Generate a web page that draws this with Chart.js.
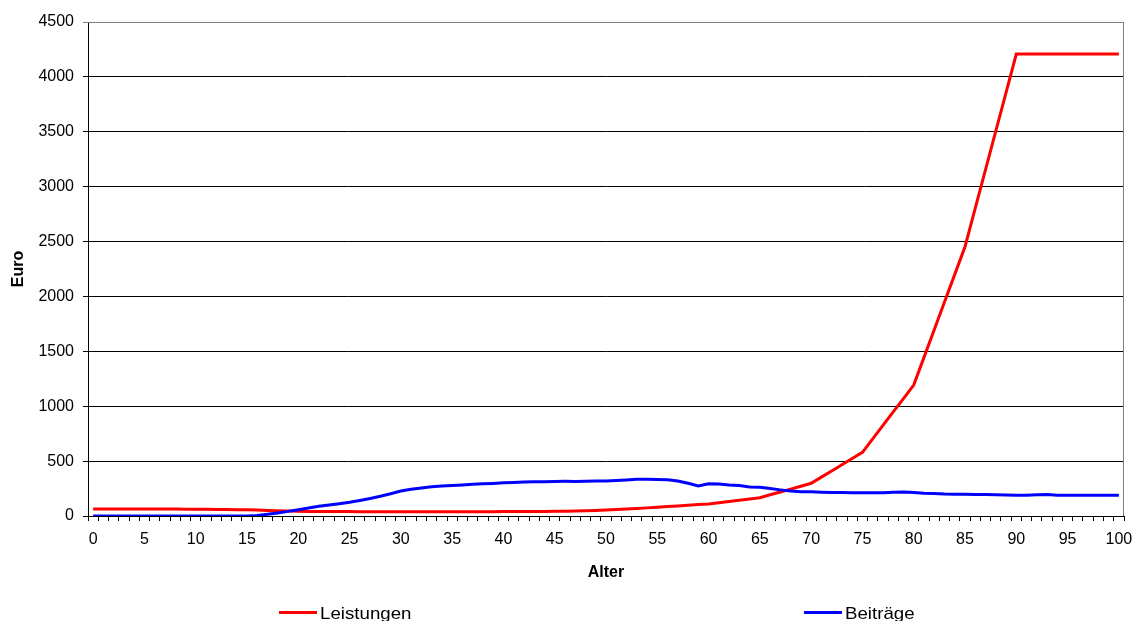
<!DOCTYPE html>
<html>
<head>
<meta charset="utf-8">
<script src="https://cdn.jsdelivr.net/npm/chart.js@4.4.1/dist/chart.umd.min.js"></script>
<style>
  html, body { margin: 0; padding: 0; background: #fff; overflow: hidden; }
  #wrap { position: relative; width: 1135px; height: 621px; overflow: hidden; }
  canvas { position: absolute; left: 0; top: 0; }
  .lg { position: absolute; font-family: "Liberation Sans", Arial, sans-serif; font-size: 17px; color: #000; white-space: nowrap; line-height: 1; transform: scaleX(1.1); transform-origin: left top; }
  .sw { position: absolute; height: 3px; }
</style>
</head>
<body>
<div id="wrap">
  <canvas id="c" width="1135" height="621"></canvas>
  <div class="sw" style="left:279px;top:611px;width:38px;background:#ff0000;"></div>
  <div class="lg" style="left:320px;top:605px;">Leistungen</div>
  <div class="sw" style="left:804px;top:611px;width:38px;background:#0000ff;"></div>
  <div class="lg" style="left:845px;top:605px;">Beiträge</div>
</div>
<script>
const ages = [0,1,2,3,4,5,6,7,8,9,10,11,12,13,14,15,16,17,18,19,20,21,22,23,24,25,26,27,28,29,30,31,32,33,34,35,36,37,38,39,40,41,42,43,44,45,46,47,48,49,50,51,52,53,54,55,56,57,58,59,60,61,62,63,64,65,66,67,68,69,70,71,72,73,74,75,76,77,78,79,80,81,82,83,84,85,86,87,88,89,90,91,92,93,94,95,96,97,98,99,100];

const leistungen = [
  64,64,64,64,64,63,63,63,63,62,
  62,61,60,59,58,56,54,51,48,45,
  43,42,41,40,40,40,39,39,39,39,
  38,38,38,38,38,38,38,39,39,39,
  40,40,41,41,42,43,44,46,48,51,
  55,59,63,68,74,80,86,92,98,104,
  110,121,132,144,155,167,193,219,245,271,
  298,354,410,467,523,580,703,825,948,1070,
  1193,1445,1697,1949,2201,2453,2804,3155,3506,3857,
  4208,4208,4208,4208,4208,4208,4208,4208,4208,4208,4208
];

const beitraege = [
  0,0,0,0,0,0,0,0,0,0,
  0,0,0,0,0,0,5,15,28,42,
  57,72,88,100,112,125,142,160,180,203,
  228,243,256,267,273,277,283,289,293,297,
  302,306,310,311,313,315,316,315,317,318,
  319,324,329,334,334,333,330,318,298,274,
  293,291,283,278,265,261,250,238,227,222,
  220,217,215,213,212,211,211,212,216,218,
  215,208,205,200,198,197,196,195,194,192,
  190,190,194,196,189,188,188,188,188,188,188
];

const yMin = 0, yMax = 4500, yStep = 500;

const fontFamily = '"Liberation Sans", Arial, sans-serif';

const frame = {
  id: 'frame',
  afterDraw(chart) {
    const {ctx, chartArea: a} = chart;
    ctx.save();
    ctx.strokeStyle = '#808080';
    ctx.lineWidth = 1;
    ctx.beginPath();
    ctx.moveTo(a.left, a.top + 0.5);
    ctx.lineTo(a.right - 0.5, a.top + 0.5);
    ctx.lineTo(a.right - 0.5, a.bottom);
    ctx.stroke();
    ctx.restore();
  }
};

new Chart(document.getElementById('c'), {
  type: 'line',
  data: {
    labels: ages,
    datasets: [
      { label: 'Leistungen', data: leistungen, borderColor: '#ff0000', backgroundColor: '#ff0000', borderWidth: 3, pointRadius: 0, tension: 0, order: 1 },
      { label: 'Beiträge', data: beitraege, borderColor: '#0000ff', backgroundColor: '#0000ff', borderWidth: 3, pointRadius: 0, tension: 0, order: 0 }
    ]
  },
  options: {
    responsive: false,
    animation: false,
    devicePixelRatio: 1,
    layout: { padding: { left: 0, right: 11, top: 22, bottom: 36 } },
    plugins: { legend: { display: false }, tooltip: { enabled: false }, title: { display: false } },
    scales: {
      x: {
        type: 'category',
        offset: true,
        afterFit(s) { s.height = 69; s.paddingLeft = 0; s.paddingRight = 0; },
        grid: { offset: true, drawOnChartArea: false, drawTicks: true, tickLength: 5, color: '#000', lineWidth: 1 },
        border: { color: '#000', width: 1 },
        ticks: {
          autoSkip: false, maxRotation: 0, minRotation: 0, padding: 9, color: '#000',
          font: { family: fontFamily, size: 16 },
          callback(v, i) { return (ages[i] % 5 === 0) ? String(ages[i]) : ''; }
        },
        title: { display: true, text: 'Alter', color: '#000', font: { family: fontFamily, size: 16, weight: 'bold' }, padding: { top: 0, bottom: 3 } }
      },
      y: {
        min: yMin, max: yMax,
        afterFit(s) { s.width = 88; s.paddingTop = 0; s.paddingBottom = 0; },
        grid: {
          color(ctx) { return ctx.tick && ctx.tick.value === yMax ? '#808080' : '#000'; },
          lineWidth: 1, drawTicks: true, tickLength: 5
        },
        border: { color: '#000', width: 1 },
        ticks: { stepSize: yStep, padding: 9, color: '#000', font: { family: fontFamily, size: 16 }, callback(v) { return String(v); } },
        title: { display: true, text: 'Euro', color: '#000', font: { family: fontFamily, size: 16, weight: 'bold' }, padding: { top: 9, bottom: 0 } }
      }
    }
  },
  plugins: [frame]
});
</script>
</body>
</html>
